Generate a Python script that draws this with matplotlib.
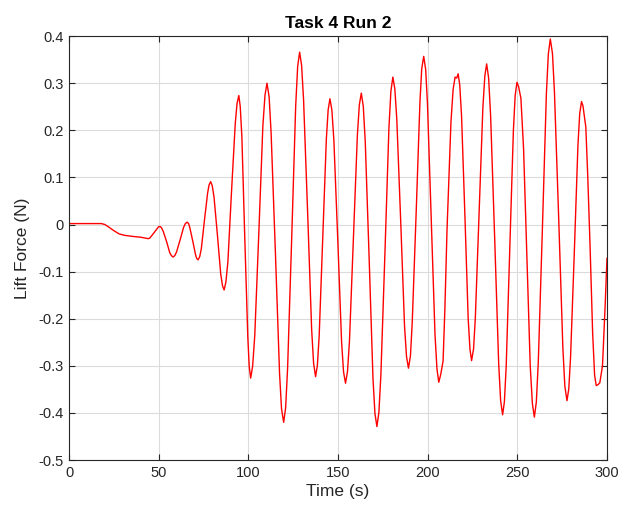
import matplotlib
matplotlib.use("Agg")
import matplotlib.pyplot as plt

# Lift force record
time_s = [
    0.0, 10.0, 18.0, 20.0, 22.0, 25.0, 28.0, 31.0, 35.0, 40.0, 44.2,
    45.0, 47.5, 49.9, 50.7,
    51.6, 52.5, 54.4, 56.2, 57.1, 58.0,
    59.0, 60.0, 62.0, 63.9, 64.9, 65.9,
    66.7, 67.4, 69.0, 70.5, 71.2, 72.0,
    72.9, 73.8, 75.5, 77.3, 78.1, 79.0,
    79.9, 80.9, 82.8, 84.6, 85.6, 86.5,
    87.5, 88.6, 90.6, 92.7, 93.7, 94.7,
    95.5, 96.4, 98.0, 99.7, 100.5, 101.3,
    102.4, 103.6, 105.9, 108.1, 109.3, 110.4,
    111.6, 112.7, 115.1, 117.4, 118.5, 119.7,
    120.8, 121.9, 124.2, 126.4, 127.5, 128.6,
    129.7, 130.8, 133.1, 135.3, 136.4, 137.5,
    138.5, 139.5, 141.5, 143.5, 144.5, 145.5,
    146.6, 147.7, 149.9, 152.0, 153.1, 154.2,
    155.3, 156.4, 158.6, 160.8, 161.9, 163.0,
    164.1, 165.2, 167.4, 169.5, 170.6, 171.7,
    172.8, 173.9, 176.2, 178.4, 179.5, 180.6,
    181.7, 182.8, 185.0, 187.1, 188.2, 189.3,
    190.4, 191.4, 193.6, 195.7, 196.7, 197.8,
    198.9, 199.9, 202.0, 204.1, 205.2, 206.2,
    207.3, 208.6, 209.6, 210.8, 213.0, 214.2, 215.3, 216.2, 217.0,
    217.9, 218.9, 220.8, 222.6, 223.6, 224.5,
    225.6, 226.6, 228.7, 230.8, 231.9, 232.9,
    234.0, 235.1, 237.4, 239.6, 240.7, 241.8,
    242.8, 243.8, 245.8, 247.8, 248.8, 249.8,
    250.7, 252.0, 253.5, 255.2, 257.2, 258.4, 259.5,
    260.6, 261.7, 264.0, 266.2, 267.3, 268.4,
    269.6, 270.7, 273.1, 275.4, 276.5, 277.7,
    278.7, 279.7, 281.8, 283.8, 284.8, 285.8,
    286.6, 288.2, 289.3, 290.6, 292.0, 293.1, 294.0,
    295.0, 296.0, 297.5, 299.0, 300.0,
]
lift_n = [
    0.002, 0.002, 0.002, 0.000, -0.005, -0.013, -0.020, -0.023, -0.025, -0.027, -0.030,
    -0.029, -0.017, -0.005, -0.004,
    -0.007, -0.014, -0.036, -0.060, -0.066, -0.069,
    -0.066, -0.058, -0.032, -0.006, 0.002, 0.005,
    0.002, -0.007, -0.035, -0.063, -0.072, -0.075,
    -0.068, -0.051, 0.008, 0.067, 0.084, 0.091,
    0.082, 0.057, -0.024, -0.105, -0.130, -0.139,
    -0.122, -0.079, 0.068, 0.214, 0.257, 0.274,
    0.250, 0.186, -0.026, -0.238, -0.302, -0.326,
    -0.301, -0.235, -0.013, 0.209, 0.275, 0.300,
    0.271, 0.195, -0.060, -0.315, -0.391, -0.420,
    -0.389, -0.305, -0.027, 0.251, 0.335, 0.366,
    0.338, 0.265, 0.022, -0.222, -0.295, -0.323,
    -0.299, -0.237, -0.028, 0.181, 0.243, 0.267,
    0.243, 0.179, -0.035, -0.249, -0.313, -0.337,
    -0.312, -0.247, -0.029, 0.189, 0.254, 0.279,
    0.251, 0.176, -0.075, -0.326, -0.401, -0.429,
    -0.399, -0.321, -0.058, 0.205, 0.283, 0.313,
    0.288, 0.223, 0.004, -0.215, -0.280, -0.305,
    -0.279, -0.208, 0.026, 0.260, 0.331, 0.357,
    0.329, 0.256, 0.011, -0.234, -0.307, -0.335,
    -0.318, -0.290, -0.180, -0.011, 0.218, 0.287, 0.313, 0.311, 0.320,
    0.296, 0.231, 0.016, -0.200, -0.265, -0.289,
    -0.264, -0.197, 0.026, 0.249, 0.316, 0.341,
    0.311, 0.232, -0.032, -0.295, -0.374, -0.404,
    -0.376, -0.301, -0.051, 0.199, 0.274, 0.302,
    0.293, 0.268, 0.160, -0.050, -0.300, -0.380, -0.409,
    -0.377, -0.292, -0.007, 0.277, 0.362, 0.394,
    0.363, 0.282, 0.010, -0.262, -0.343, -0.374,
    -0.349, -0.281, -0.057, 0.168, 0.236, 0.261,
    0.252, 0.207, 0.100, -0.050, -0.230, -0.320, -0.342,
    -0.340, -0.336, -0.300, -0.170, -0.072,
]

x_ticks = [0, 50, 100, 150, 200, 250, 300]
y_ticks = [-0.5, -0.4, -0.3, -0.2, -0.1, 0, 0.1, 0.2, 0.3, 0.4]
y_tick_labels = ["-0.5", "-0.4", "-0.3", "-0.2", "-0.1", "0", "0.1", "0.2", "0.3", "0.4"]

plt.rcParams["font.family"] = ["Liberation Sans", "DejaVu Sans"]

axis_grey = (0.15, 0.15, 0.15)

fig = plt.figure(figsize=(6.2, 5.16), dpi=100, facecolor="white")
ax = fig.add_axes([0.1113, 0.1085, 0.8677, 0.8215])

ax.plot(time_s, lift_n, color="red", linewidth=1.0)

ax.set_xlim(0, 300)
ax.set_ylim(-0.5, 0.4)
ax.set_xticks(x_ticks)
ax.set_yticks(y_ticks)
ax.set_yticklabels(y_tick_labels)

ax.grid(True, color=(0.86, 0.86, 0.86), linewidth=0.8)
ax.set_axisbelow(True)
ax.tick_params(direction="in", length=4, width=0.8, colors=axis_grey,
               labelsize=10.5, top=True, right=True, pad=4)
for spine in ax.spines.values():
    spine.set_color(axis_grey)
    spine.set_linewidth(0.8)

ax.set_xlabel("Time (s)", fontsize=12.5, color=axis_grey, labelpad=3)
ax.set_ylabel("Lift Force (N)", fontsize=12.5, color=axis_grey, labelpad=6)
ax.set_title("Task 4 Run 2", fontsize=12.5, fontweight="bold", color="black", pad=6)

fig.savefig("out.png", dpi=100, facecolor="white")
